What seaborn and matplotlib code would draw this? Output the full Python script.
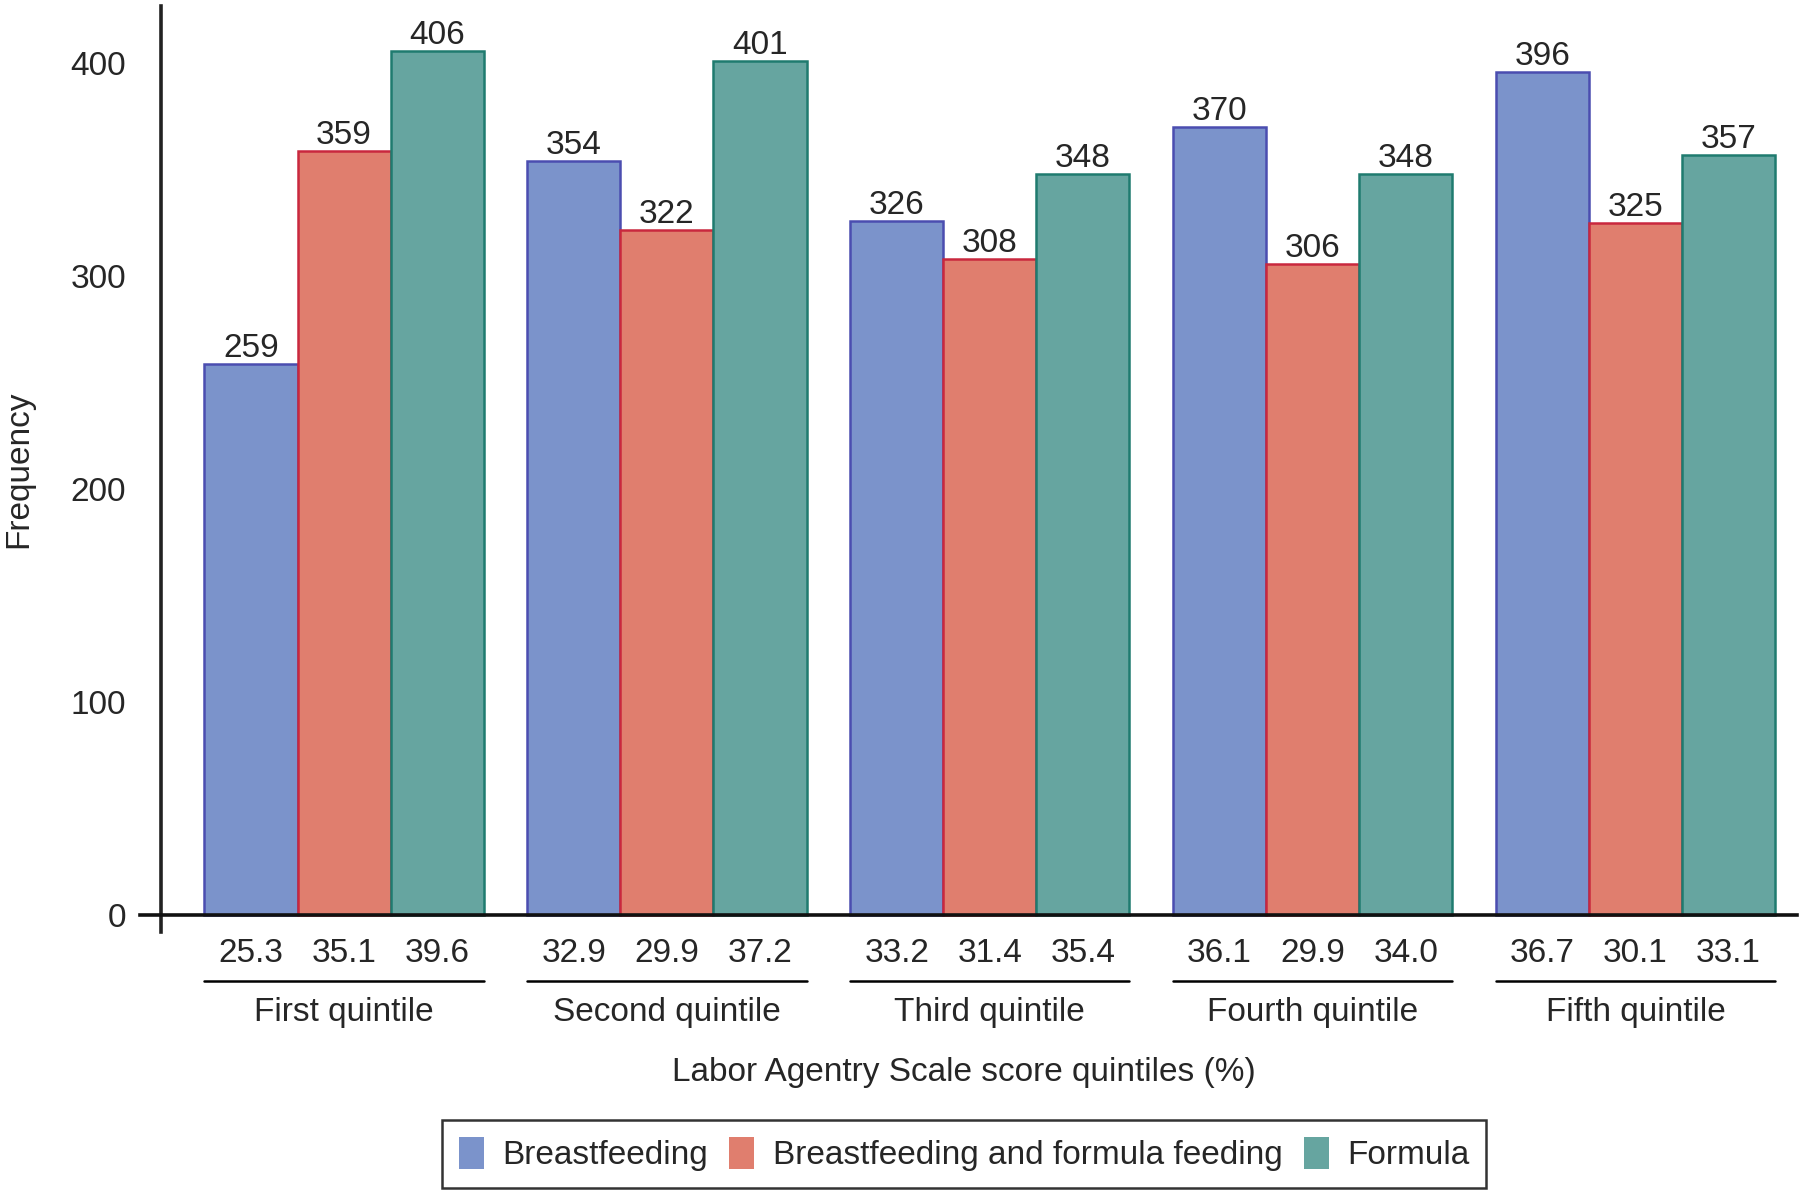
import pandas as pd
import seaborn as sns
import numpy as np
import matplotlib.pyplot as plt
from matplotlib.transforms import blended_transform_factory
from matplotlib.patches import Patch

quintiles = ["First quintile", "Second quintile", "Third quintile",
             "Fourth quintile", "Fifth quintile"]
groups = ["Breastfeeding", "Breastfeeding and formula feeding", "Formula"]
freq_bf = [259, 354, 326, 370, 396]
freq_mix = [359, 322, 308, 306, 325]
freq_formula = [406, 401, 348, 348, 357]
pct_bf = [25.3, 32.9, 33.2, 36.1, 36.7]
pct_mix = [35.1, 29.9, 31.4, 29.9, 30.1]
pct_formula = [39.6, 37.2, 35.4, 34.0, 33.1]

fills = ["#7B93CB", "#E07E6E", "#66A5A0"]
edges = ["#4B4DB0", "#C9283E", "#1F7B6F"]

rows = []
for g, fr, pc in zip(groups, [freq_bf, freq_mix, freq_formula],
                     [pct_bf, pct_mix, pct_formula]):
    for q, f, p in zip(quintiles, fr, pc):
        rows.append({"quintile": q, "group": g, "freq": f, "pct": p})
dta = pd.DataFrame(rows)

sns.set_style("white")
plt.rcParams['font.family'] = ['Liberation Sans', 'DejaVu Sans']
FS = 24

fig = plt.figure(figsize=(18, 11.96), dpi=100)
ax = fig.add_axes([0.0778, 0.2207, 0.9205, 0.7743])

sns.barplot(data=dta, x="quintile", y="freq", hue="group", order=quintiles,
            hue_order=groups, palette=fills, width=0.865, gap=0,
            saturation=1, legend=False, ax=ax)

for i, cont in enumerate(ax.containers):
    for bar in cont:
        bar.set_edgecolor(edges[i])
        bar.set_linewidth(1.8)
    ax.bar_label(cont, fontsize=FS, padding=0)

ax.set_xlim(-0.632, 4.5)
ax.set_ylim(-8, 427)
ax.set_yticks([0, 100, 200, 300, 400])
ax.tick_params(axis='y', labelsize=FS, length=16, width=1.5, color='#333333', pad=9)
ax.set_xticks([])
ax.set_xlabel("")
ax.set_ylabel("Frequency", fontsize=FS)
ax.yaxis.set_label_coords(-0.064, 0.5)

for s in ["top", "right"]:
    ax.spines[s].set_visible(False)
ax.spines["left"].set_position(("data", -0.567))
ax.spines["left"].set_linewidth(2.6)
ax.spines["left"].set_color("#222222")
ax.spines["bottom"].set_position(("data", 0))
ax.spines["bottom"].set_linewidth(2.6)
ax.spines["bottom"].set_color("#111111")

trans = blended_transform_factory(ax.transData, ax.transAxes)
pcts = [pct_bf, pct_mix, pct_formula]
for i, cont in enumerate(ax.containers):
    for j, bar in enumerate(cont):
        cx = bar.get_x() + bar.get_width() / 2
        ax.text(cx, -0.023, f"{pcts[i][j]:.1f}", transform=trans,
                ha='center', va='center', fontsize=FS)

for j, q in enumerate(quintiles):
    left = ax.containers[0][j].get_x()
    last = ax.containers[-1][j]
    right = last.get_x() + last.get_width()
    ax.plot([left, right], [-0.053, -0.053], transform=trans, color='black',
            lw=1.8, clip_on=False)
    ax.text((left + right) / 2, -0.087, q, transform=trans, ha='center',
            va='center', fontsize=FS)

fig.text(0.5356, 0.1035, "Labor Agentry Scale score quintiles (%)",
         ha='center', va='center', fontsize=FS)

handles = [Patch(facecolor=c, edgecolor='none') for c in fills]
leg = fig.legend(handles, groups, loc='center', bbox_to_anchor=(0.5356, 0.035),
                 ncol=3, fontsize=FS, frameon=True, fancybox=False,
                 edgecolor='black', handlelength=0.75, handleheight=1.1,
                 handletextpad=0.55, columnspacing=0.65, borderpad=0.5,
                 borderaxespad=0)
leg.get_frame().set_linewidth(1.8)

plt.savefig("out.png", dpi=100)
